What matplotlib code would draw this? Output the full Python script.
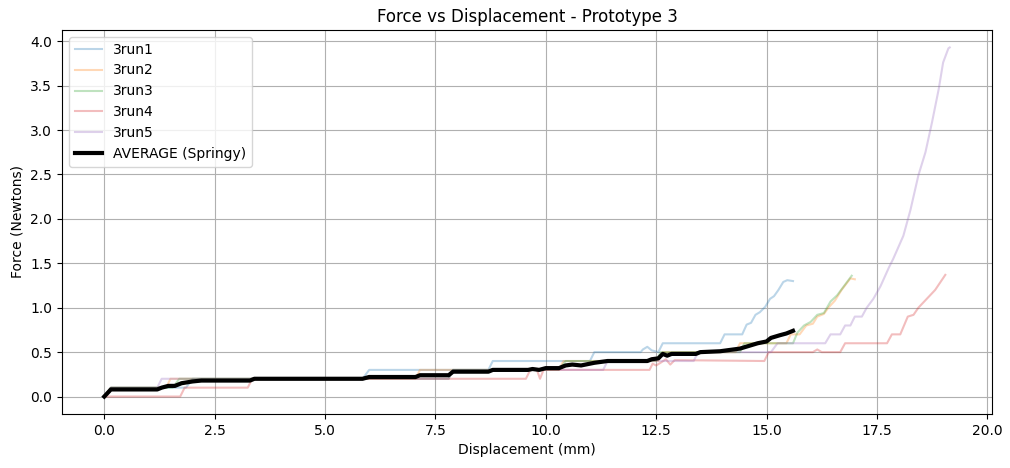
import matplotlib
matplotlib.use("Agg")
import matplotlib.pyplot as plt

# Datos (desplazamiento mm, fuerza N)
run1_x = [0, 0.15, 1.85, 2.0, 5.85, 6.0, 8.7, 8.8, 11.0, 11.1, 12.15, 12.2, 12.3, 12.4, 12.55, 12.65,
          13.95, 14.05, 14.45, 14.55, 14.65, 14.75, 14.85, 14.97, 15.08, 15.17, 15.27, 15.38, 15.47, 15.6]
run1_y = [0, 0.1, 0.1, 0.2, 0.2, 0.3, 0.3, 0.4, 0.4, 0.5, 0.5, 0.53, 0.56, 0.52, 0.5, 0.6,
          0.6, 0.7, 0.7, 0.81, 0.83, 0.92, 0.95, 1.01, 1.1, 1.13, 1.2, 1.29, 1.31, 1.3]

run2_x = [0, 0.15, 1.4, 1.5, 7.05, 7.15, 10.3, 10.4, 12.55, 12.65, 14.3, 14.4, 15.45, 15.55, 15.75,
          15.9, 16.05, 16.15, 16.3, 16.4, 16.55, 16.7, 16.9, 17.0]
run2_y = [0, 0.1, 0.1, 0.2, 0.2, 0.3, 0.3, 0.4, 0.4, 0.5, 0.5, 0.6, 0.6, 0.7, 0.7,
          0.8, 0.82, 0.9, 0.93, 1.0, 1.08, 1.2, 1.33, 1.32]

run3_x = [0, 0.15, 1.55, 1.7, 7.8, 7.9, 10.3, 10.45, 12.5, 12.6, 14.4, 14.5, 15.6, 15.7, 15.85,
          16.0, 16.15, 16.3, 16.45, 16.6, 16.75, 16.93]
run3_y = [0, 0.1, 0.1, 0.2, 0.2, 0.3, 0.3, 0.4, 0.4, 0.5, 0.5, 0.6, 0.6, 0.72, 0.8,
          0.84, 0.92, 0.94, 1.07, 1.14, 1.24, 1.36]

run4_x = [0, 1.72, 1.82, 3.25, 3.35, 9.55, 9.65, 9.8, 9.87, 9.95, 12.35, 12.42, 12.5, 12.6, 12.72,
          12.82, 12.92, 14.95, 15.05, 16.05, 16.15, 16.25, 16.67, 16.78, 17.73, 17.84, 18.03,
          18.2, 18.33, 18.44, 18.63, 18.82, 19.05]
run4_y = [0, 0, 0.1, 0.1, 0.2, 0.2, 0.3, 0.3, 0.2, 0.3, 0.3, 0.37, 0.35, 0.38, 0.42,
          0.36, 0.41, 0.4, 0.5, 0.5, 0.53, 0.5, 0.5, 0.6, 0.6, 0.7, 0.7,
          0.9, 0.92, 1.0, 1.1, 1.2, 1.37]

run5_x = [0, 0.15, 1.2, 1.3, 7.8, 7.9, 11.3, 11.4, 13.35, 13.45, 15.1, 15.25, 16.33, 16.45, 16.67,
          16.78, 16.9, 17.0, 17.16, 17.27, 17.42, 17.58, 17.77, 17.87, 18.1, 18.26, 18.44, 18.6,
          18.75, 18.9, 19.0, 19.12, 19.15]
run5_y = [0, 0.1, 0.1, 0.2, 0.2, 0.3, 0.3, 0.4, 0.4, 0.5, 0.5, 0.6, 0.6, 0.7, 0.7,
          0.8, 0.8, 0.9, 0.9, 1.0, 1.1, 1.24, 1.45, 1.55, 1.81, 2.1, 2.49, 2.75,
          3.09, 3.46, 3.76, 3.92, 3.93]

avg_x = [0, 0.15, 1.2, 1.3, 1.45, 1.6, 1.75, 2.0, 2.2, 3.3, 3.4, 5.85, 6.0, 7.05, 7.15, 7.8, 7.9,
         8.7, 8.8, 9.6, 9.7, 9.85, 10.0, 10.3, 10.45, 10.6, 10.8, 11.1, 11.4, 12.3, 12.4, 12.55,
         12.65, 12.75, 12.85, 13.4, 13.5, 13.95, 14.1, 14.4, 14.6, 14.8, 15.0, 15.1, 15.3, 15.45, 15.6]
avg_y = [0, 0.08, 0.08, 0.1, 0.12, 0.12, 0.15, 0.17, 0.18, 0.18, 0.2, 0.2, 0.22, 0.22, 0.24, 0.24, 0.28,
         0.28, 0.3, 0.3, 0.31, 0.3, 0.32, 0.32, 0.35, 0.36, 0.35, 0.38, 0.4, 0.4, 0.42, 0.43,
         0.48, 0.46, 0.48, 0.48, 0.5, 0.51, 0.52, 0.54, 0.57, 0.6, 0.62, 0.66, 0.69, 0.71, 0.74]

runs = [("3run1", run1_x, run1_y), ("3run2", run2_x, run2_y), ("3run3", run3_x, run3_y),
        ("3run4", run4_x, run4_y), ("3run5", run5_x, run5_y)]

fig = plt.figure(figsize=(10.1, 4.68), dpi=100)
ax = fig.add_axes([62 / 1010, 1 - 414 / 468, 930 / 1010, 384 / 468])

for nombre, xs, ys in runs:
    ax.plot(xs, ys, label=nombre, alpha=0.3)

ax.plot(avg_x, avg_y, label="AVERAGE (Springy)", color="black", linewidth=3)

ax.set_title("Force vs Displacement - Prototype 3")
ax.set_xlabel("Displacement (mm)")
ax.set_ylabel("Force (Newtons)")
ax.legend(loc="upper left")
ax.grid(True)

fig.savefig("out.png", dpi=100)
